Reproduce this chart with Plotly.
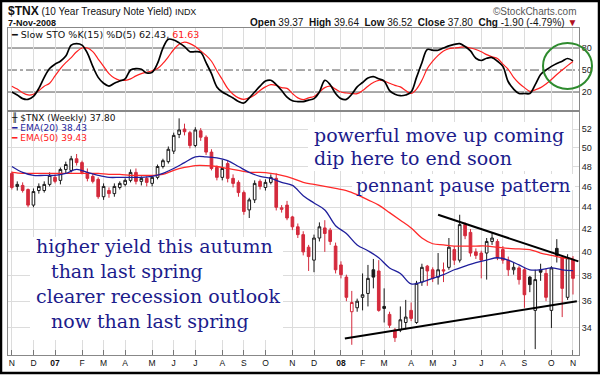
import math
import pandas as pd
import plotly.graph_objects as go

# ------------------------------------------------------------------ data
weeks = pd.date_range("2006-11-06", periods=105, freq="7D")   # weekly bars (Mon)

opens = [47.3, 46.0, 46.1, 45.7, 44.2, 45.6, 45.6, 46.2, 46.9, 46.6,
         47.7, 47.6, 48.8, 48.4, 47.4, 47.0, 46.7, 45.0, 45.6, 45.3,
         45.9, 46.2, 46.6, 47.4, 46.5, 46.8, 46.3, 46.9, 48.0, 48.5,
         49.6, 51.4, 52.0, 51.6, 50.2, 51.8, 51.1, 49.5, 47.9, 46.9,
         48.3, 46.8, 46.4, 45.4, 43.75, 44.7, 46.5, 45.9, 46.4, 46.8,
         43.8, 44.2, 43.1, 42.2, 41.5, 40.4, 39.3, 41.2, 42.1, 41.9,
         40.5, 38.9, 37.9, 35.2, 35.5, 36.3, 36.6, 38.5, 38.4, 35.6,
         35.0, 33.85, 33.85, 34.4, 35.3, 34.4, 37.5, 38.8, 38.5, 37.9,
         38.5, 38.7, 40.2, 39.3, 42.4, 41.7, 40.0, 39.9, 39.9, 40.9,
         40.9, 40.2, 39.3, 38.5, 38.65, 38.5, 37.9, 35.3, 38.5, 38.2,
         35.3, 40.3, 39.5, 36.3, 39.37]
highs = [47.5, 46.5, 46.4, 45.8, 45.8, 46.3, 46.5, 47.4, 47.2, 47.9,
         48.5, 49.1, 49.3, 48.6, 47.8, 47.3, 46.9, 46.3, 45.9, 46.3,
         46.5, 46.8, 47.7, 47.8, 47.0, 47.0, 47.1, 48.2, 48.8, 50.1,
         51.6, 53.2, 52.6, 51.8, 52.2, 52.1, 51.3, 49.8, 48.1, 48.7,
         48.6, 47.2, 46.6, 45.6, 44.9, 46.6, 46.7, 46.7, 47.2, 47.3,
         44.2, 44.6, 43.2, 42.5, 41.8, 40.6, 41.5, 42.6, 42.8, 42.1,
         40.8, 39.2, 38.1, 36.8, 36.2, 38.2, 38.9, 39.4, 39.3, 37.0,
         35.2, 34.0, 35.6, 36.1, 35.9, 37.6, 39.0, 38.9, 38.7, 39.9,
         39.1, 41.2, 40.5, 43.3, 42.6, 42.0, 40.3, 40.1, 41.2, 41.7,
         41.1, 40.5, 39.6, 39.1, 38.8, 38.7, 38.0, 38.5, 39.0, 38.6,
         38.8, 41.1, 39.7, 39.8, 39.64]
lows = [45.7, 45.6, 45.4, 44.0, 44.0, 45.3, 45.4, 46.0, 46.3, 46.2,
        47.3, 47.4, 48.1, 47.2, 46.5, 46.3, 44.8, 44.7, 44.9, 45.0,
        45.7, 46.0, 46.4, 46.2, 46.1, 46.0, 46.0, 46.7, 47.8, 48.3,
        49.3, 51.0, 51.3, 49.9, 50.0, 50.7, 49.2, 47.6, 46.6, 46.6,
        46.4, 45.9, 45.0, 43.3, 43.0, 44.4, 45.7, 45.6, 46.2, 43.7,
        43.5, 42.8, 41.9, 41.2, 39.7, 38.4, 38.3, 40.9, 40.0, 40.6,
        38.2, 37.8, 36.0, 32.8, 35.2, 35.3, 35.6, 37.0, 35.2, 34.4,
        34.0, 33.0, 33.7, 33.9, 34.5, 34.3, 37.2, 37.2, 37.5, 37.3,
        37.5, 38.5, 38.9, 39.1, 41.1, 39.6, 39.4, 37.8, 37.7, 40.6,
        39.3, 39.0, 38.0, 38.1, 37.3, 35.5, 36.7, 32.5, 37.6, 36.0,
        34.0, 39.1, 34.8, 36.1, 36.52]
closes = [45.9, 46.2, 45.6, 44.2, 45.5, 46.0, 46.2, 47.1, 46.5, 47.7,
          48.2, 48.8, 48.4, 47.4, 46.8, 46.5, 45.0, 46.0, 45.3, 46.0,
          46.3, 46.6, 47.4, 46.5, 46.8, 46.4, 46.9, 48.0, 48.6, 49.8,
          51.3, 51.9, 51.7, 50.2, 51.9, 51.1, 49.5, 47.8, 46.9, 47.8,
          46.8, 46.3, 45.4, 43.6, 44.7, 46.3, 46.0, 46.4, 46.9, 44.0,
          43.95, 43.0, 42.2, 41.5, 40.0, 39.6, 41.2, 42.2, 41.6, 40.9,
          38.5, 38.1, 36.3, 35.9, 36.0, 36.5, 37.8, 37.9, 35.3, 35.45,
          34.2, 33.3, 34.6, 34.8, 34.7, 37.4, 38.7, 38.4, 37.8, 38.5,
          38.4, 40.4, 39.3, 42.4, 41.4, 39.9, 39.7, 39.3, 40.9, 41.2,
          39.5, 39.3, 38.5, 38.7, 37.7, 36.5, 37.3, 37.7, 38.3, 36.3,
          38.65, 39.7, 37.0, 39.5, 37.80]

# EMA values read every second week
ema20 = [48.0, 47.4, 47.1, 47.1, 47.1, 47.3, 47.7, 47.4, 47.1, 46.9,
         46.9, 46.9, 46.9, 47.0, 47.3, 47.8, 48.4, 49.0, 49.0, 48.9,
         48.6, 48.0, 47.4, 47.0, 46.8, 46.4, 46.1, 45.1, 44.4, 43.75,
         42.3, 41.6, 40.6, 40.1, 39.5, 38.65, 38.2, 37.35, 37.5, 37.8,
         38.1, 38.5, 38.8, 39.1, 39.3, 39.5, 39.3, 38.9, 38.5, 38.5,
         38.65, 38.5, 38.43]
ema50 = [47.4, 47.3, 47.3, 47.3, 47.3, 47.3, 47.3, 47.3, 47.3, 47.2,
         47.2, 47.1, 47.1, 47.1, 47.2, 47.6, 47.9, 48.1, 48.1, 48.0,
         47.8, 47.6, 47.4, 47.4, 47.3, 47.1, 46.8, 46.4, 46.2, 46.0,
         45.8, 45.6, 45.2, 44.7, 44.2, 43.5, 42.8, 42.1, 41.2, 40.7,
         40.6, 40.5, 40.5, 40.5, 40.5, 40.4, 40.3, 40.25, 40.2, 39.9,
         39.7, 39.5, 39.43]

sto_k = [20, 16, 11, 10, 14, 25, 40, 52, 58, 62,
         69, 84, 86, 84, 73, 55, 40, 32, 28, 32,
         35, 38, 50, 52, 51, 46, 47, 59, 80, 92,
         91, 87, 82, 75, 75, 74, 60, 45, 27, 20,
         16, 12, 7, 5, 12, 20, 28, 35, 36, 30,
         22, 13, 8, 7, 7, 9, 11, 20, 36, 30,
         18, 11, 10, 17, 27, 33, 39, 41, 38, 35,
         22, 17, 15, 16, 20, 40, 60, 78, 77, 77,
         80, 83, 85, 86, 82, 76, 66, 63, 66, 67,
         62, 55, 34, 24, 18, 18, 18, 30, 44, 50,
         55, 59, 62, 65.7, 62.43]
sto_d = [28, 24, 19, 16, 17, 22, 28, 32, 42, 52,
         60, 67, 75, 80, 80, 75, 65, 55, 45, 39,
         36, 36, 38, 42, 45, 47, 49, 52, 59, 68,
         78, 85, 88, 86, 82, 76, 70, 62, 49, 37,
         25, 17, 12, 10, 12, 16, 22, 27, 30, 29,
         26, 25, 18, 12, 9.7, 12, 14, 20, 26, 28,
         24, 20, 18.7, 18, 17.8, 22, 28, 33, 36, 35,
         32, 29, 27, 22, 18, 24, 36, 52, 62, 70,
         76, 79, 80, 81, 81.5, 80, 78, 75, 71, 68,
         65.7, 58, 51, 40, 32, 26, 21, 23, 26, 31,
         37, 44, 50, 56, 61.63]
sto_levels = [20, 50, 80]

support_dates = ["2008-01-12", "2008-11-08"]
support_vals = [33.25, 36.0]
resist_dates = ["2008-05-12", "2008-11-10"]
resist_vals = [43.3, 39.2]

tick_dates = ["2006-11-06", "2006-12-04", "2007-01-01", "2007-02-05", "2007-03-05",
              "2007-04-02", "2007-05-07", "2007-06-04", "2007-07-02", "2007-08-06",
              "2007-09-03", "2007-10-01", "2007-11-05", "2007-12-03", "2008-01-07",
              "2008-02-04", "2008-03-03", "2008-04-07", "2008-05-05", "2008-06-02",
              "2008-07-07", "2008-08-04", "2008-09-01", "2008-10-06", "2008-11-03"]
tick_labels = ["N", "D", "<b>07</b>", "F", "M", "A", "M", "J", "J", "A", "S", "O",
               "N", "D", "<b>08</b>", "F", "M", "A", "M", "J", "J", "A", "S", "O", "N"]
price_ticks = [34, 36, 38, 40, 42, 44, 46, 48, 50, 52]

# ------------------------------------------------------------------ geometry helpers
W, H = 600, 375
ML, MR, MT, MB = 8, 21, 28, 20
PW, PH = W - ML - MR, H - MT - MB
PRICE_TOP = 112


def px(x):
    return (x - ML) / PW


def py(y):
    return (H - MB - y) / PH


RED = "#d42a3c"
NAVY = "#1c1c8c"
GRID = "#dcdcdc"

fig = go.Figure()

# EMAs
fig.add_trace(go.Scatter(x=weeks[::2], y=ema50, mode="lines",
                         line=dict(color="#ff2a2a", width=1.3, shape="spline"),
                         xaxis="x", yaxis="y", hoverinfo="skip", showlegend=False))
fig.add_trace(go.Scatter(x=weeks[::2], y=ema20, mode="lines",
                         line=dict(color="#1f1f9c", width=1.3, shape="spline"),
                         xaxis="x", yaxis="y", hoverinfo="skip", showlegend=False))

# candles: black if close >= previous close, red otherwise
n = len(closes)
black_i = [i for i in range(1, n) if closes[i] >= closes[i - 1]]
red_i = [i for i in range(n) if i not in black_i]


def sub(arr, idx):
    return [arr[i] for i in idx]


for idx, col in [(black_i, "#1a1a1a"), (red_i, RED)]:
    fig.add_trace(go.Candlestick(
        x=[weeks[i] for i in idx], open=sub(opens, idx), high=sub(highs, idx),
        low=sub(lows, idx), close=sub(closes, idx),
        increasing=dict(line=dict(color=col, width=1), fillcolor="white"),
        decreasing=dict(line=dict(color=col, width=1), fillcolor=col),
        whiskerwidth=0, xaxis="x", yaxis="y", hoverinfo="skip", showlegend=False))

# trend lines
fig.add_trace(go.Scatter(x=support_dates, y=support_vals, mode="lines",
                         line=dict(color="black", width=2), xaxis="x", yaxis="y",
                         hoverinfo="skip", showlegend=False))
fig.add_trace(go.Scatter(x=resist_dates, y=resist_vals, mode="lines",
                         line=dict(color="black", width=2), xaxis="x", yaxis="y",
                         hoverinfo="skip", showlegend=False))

# stochastic
fig.add_trace(go.Scatter(x=weeks, y=sto_d, mode="lines",
                         line=dict(color="#ff2020", width=1.2, shape="spline"),
                         xaxis="x2", yaxis="y2", hoverinfo="skip", showlegend=False))
fig.add_trace(go.Scatter(x=weeks, y=sto_k, mode="lines",
                         line=dict(color="black", width=1.7, shape="spline"),
                         xaxis="x2", yaxis="y2", hoverinfo="skip", showlegend=False))

xrange = ["2006-11-01", "2008-11-10T19:00"]
axis_font = dict(family="Liberation Sans, Arial, sans-serif", size=9, color="#222")

fig.update_layout(
    width=W, height=H, margin=dict(l=ML, r=MR, t=MT, b=MB),
    paper_bgcolor="white", plot_bgcolor="white", showlegend=False,
    xaxis=dict(domain=[0, 1], range=xrange, anchor="y", tickmode="array",
               tickvals=tick_dates, ticktext=tick_labels, tickfont=dict(
                   family="Liberation Sans, Arial, sans-serif", size=8.5, color="#111"),
               showgrid=True, gridcolor=GRID, gridwidth=1, ticks="inside", ticklen=5,
               tickcolor="#777", showline=True, linecolor="#888", mirror=True,
               rangeslider=dict(visible=False), zeroline=False),
    yaxis=dict(domain=[0, py(PRICE_TOP)], type="log",
               range=[1.5064, 1.7318], side="right", anchor="x", tickmode="array",
               tickvals=price_ticks, ticktext=[str(t) for t in price_ticks],
               tickfont=axis_font, showgrid=True, gridcolor=GRID, gridwidth=1,
               ticks="", showline=True, linecolor="#888", mirror=True, zeroline=False),
    xaxis2=dict(domain=[0, 1], matches="x", anchor="y2", tickmode="array",
                tickvals=tick_dates, showticklabels=False, showgrid=True,
                gridcolor=GRID, ticks="", showline=True, linecolor="#888",
                mirror=True, zeroline=False),
    yaxis2=dict(domain=[py(110), 1], range=[-4.5, 107.3], side="right", anchor="x2",
                tickmode="array", tickvals=sto_levels,
                ticktext=[str(v) for v in sto_levels], tickfont=axis_font,
                showgrid=False, ticks="", showline=True, linecolor="#888",
                mirror=True, zeroline=False),
)

shapes = []
# stochastic reference levels
for lv in sto_levels:
    shapes.append(dict(type="line", xref="x2 domain", x0=0, x1=1, yref="y2", y0=lv, y1=lv,
                       line=dict(color="#555", width=1,
                                 dash="dashdot" if lv == 50 else "solid"),
                       layer="below"))
# white boxes behind the commentary (hide the grid there)
for (x0, y0, x1, y1) in [(308, 122, 572, 171), (352, 174, 575, 190), (30, 237, 283, 340)]:
    shapes.append(dict(type="rect", xref="paper", yref="paper", x0=px(x0), x1=px(x1),
                       y0=py(y1), y1=py(y0), fillcolor="white", line=dict(width=0)))
# green circle
shapes.append(dict(type="circle", xref="paper", yref="paper", x0=px(543), x1=px(592),
                   y0=py(89), y1=py(43), line=dict(color="#2e8b2e", width=2)))
# outer border
shapes.append(dict(type="rect", xref="paper", yref="paper", x0=px(1), x1=px(599),
                   y0=py(373), y1=py(1), line=dict(color="black", width=2.5)))
fig.update_layout(shapes=shapes)

ann = []


def txt(x, y, text, size, family="Liberation Sans, Arial, sans-serif", color="#111",
        xanchor="left"):
    ann.append(dict(x=px(x), y=py(y), xref="paper", yref="paper", text=text,
                    showarrow=False, xanchor=xanchor, yanchor="middle",
                    font=dict(family=family, size=size, color=color)))


# header
txt(6, 11, "<b><span style='font-size:12px'>$TNX</span></b> (10 Year Treasury Note Yield) "
            "<span style='font-size:9px'>INDX</span>", 10)
txt(6, 22.5, "<b>7-Nov-2008</b>", 9)
txt(579, 11, "©StockCharts.com", 10, color="#555", xanchor="right")
txt(579, 22.5, "<b>Open</b> 39.37  <b>High</b> 39.64  <b>Low</b> 36.52  <b>Close</b> 37.80  "
               "<b>Chg</b> -1.90 (-4.79%) <span style='color:#b01020'>▼</span>", 10,
    xanchor="right")
# indicator legends
sans = "DejaVu Sans, Verdana, sans-serif"
txt(9, 34.5, "<b>━</b> Slow STO %K(15) %D(5) 62.43, <span style='color:#ff2020'>61.63</span>",
    9.5, family=sans)
txt(9, 118.5, "<b>╫</b> $TNX (Weekly) 37.80", 9, family=sans)
txt(9, 128, "<span style='color:#1f1f9c'>━ EMA(20) 38.43</span>", 9, family=sans)
txt(9, 138, "<span style='color:#ff2020'>━ EMA(50) 39.43</span>", 9, family=sans)

# commentary
serif = "DejaVu Serif, Georgia, serif"
txt(312, 135, "powerful move up coming", 19, family=serif, color=NAVY)
txt(312, 158, "dip here to end soon", 19, family=serif, color=NAVY)
txt(354, 186, "pennant pause pattern", 18.6, family=serif, color=NAVY)
txt(34, 246, "higher yield this autumn", 19, family=serif, color=NAVY)
txt(49, 271, "than last spring", 19, family=serif, color=NAVY)
txt(34, 296, "clearer recession outlook", 19, family=serif, color=NAVY)
txt(49, 321, "now than last spring", 19, family=serif, color=NAVY)

fig.update_layout(annotations=ann)
fig.write_html("out.html", config={"displayModeBar": False},
               post_script="document.body.style.margin='0';")
